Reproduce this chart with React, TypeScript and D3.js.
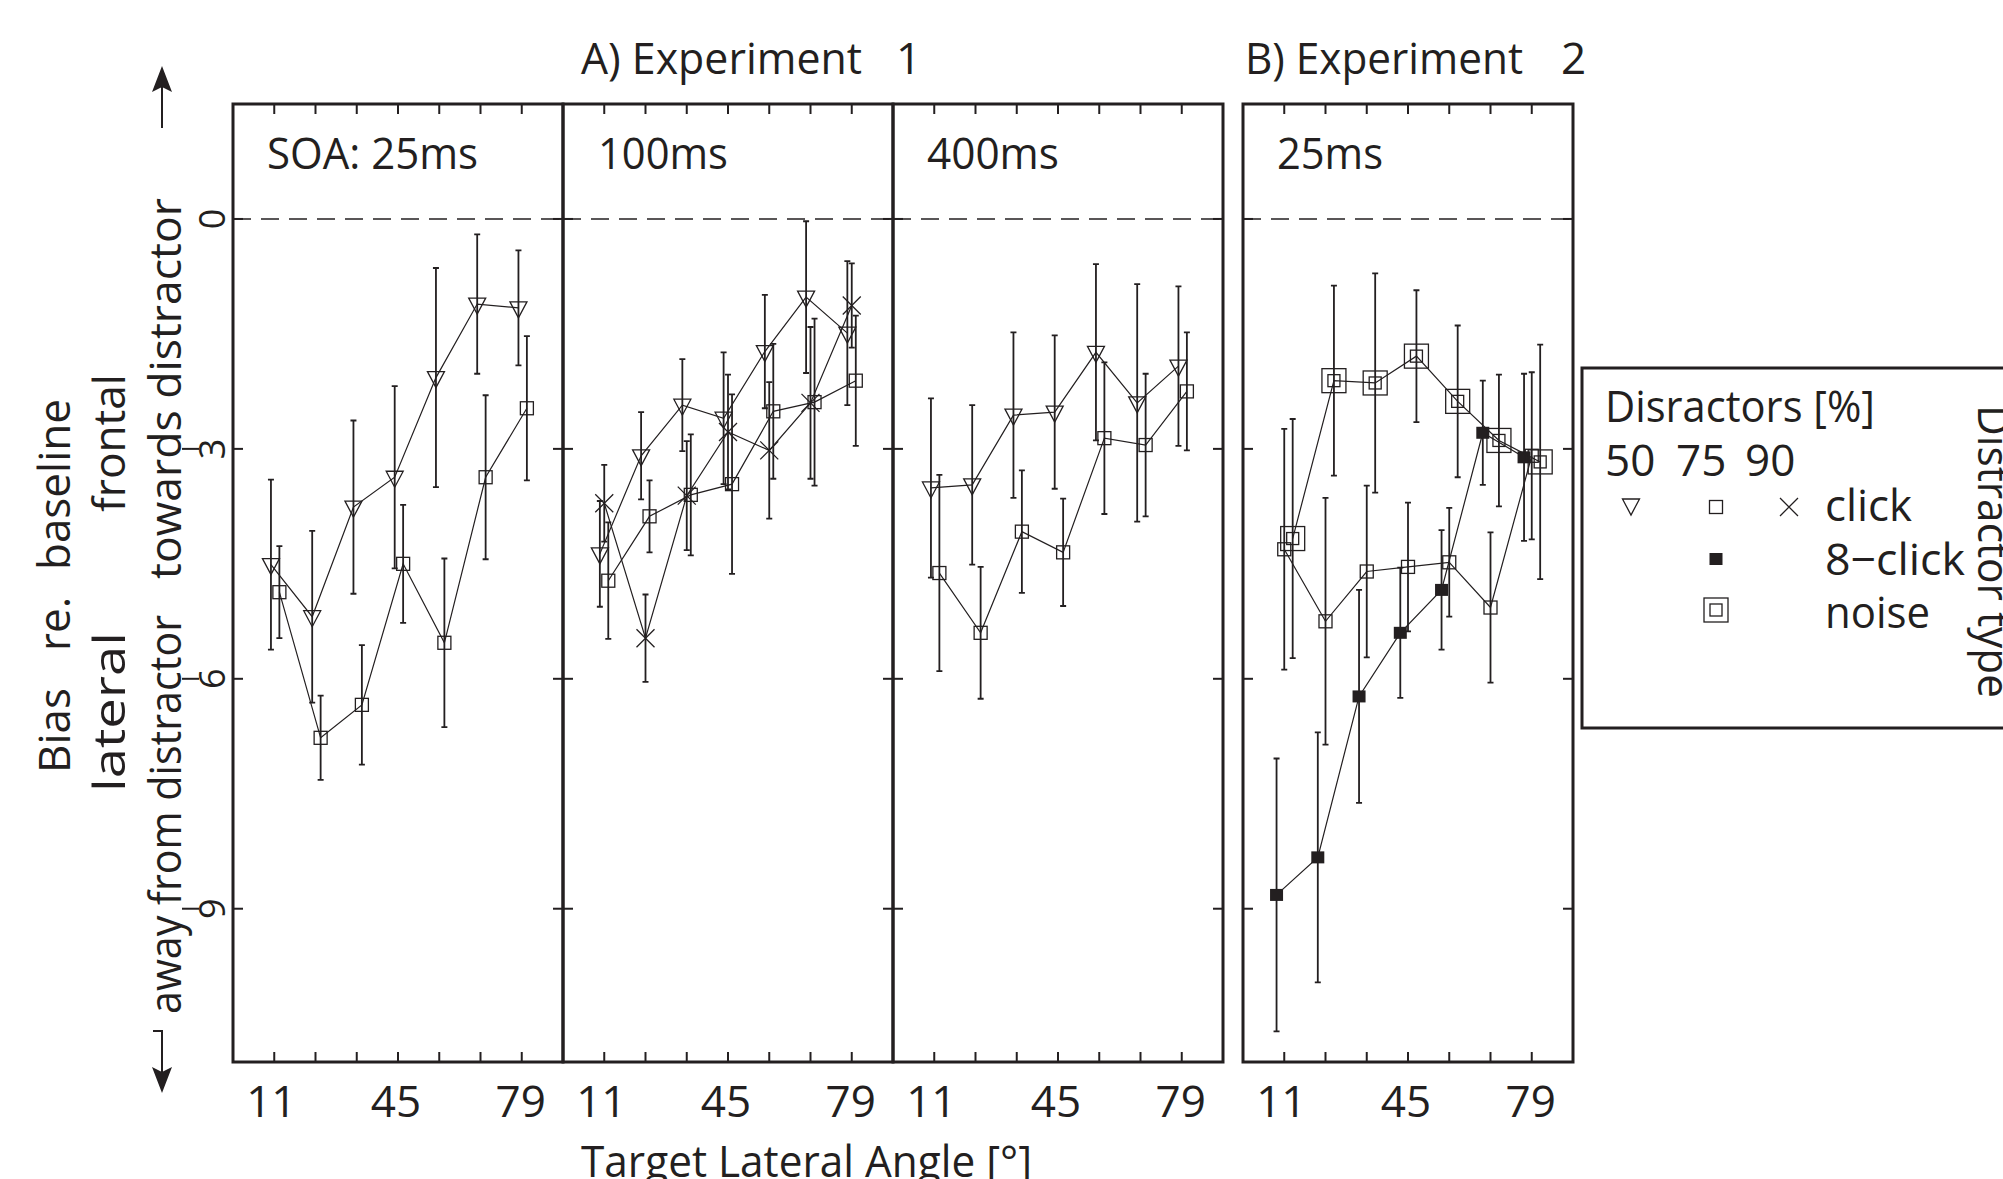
import React from 'react';
import * as d3 from 'd3';

// target lateral angles (deg) and axis labels
const angles = [11.25, 22.5, 33.75, 45, 56.25, 67.5, 78.75];
const xTickLabels = [11, 45, 79];
const yTickValues = [0, -3, -6, -9];

// Experiment 1, SOA 25 ms
const e1s25Pct50 = [-4.51, -5.19, -3.76, -3.37, -2.07, -1.11, -1.16];
const e1s25Pct50Err = [1.11, 1.12, 1.13, 1.19, 1.43, 0.91, 0.75];
const e1s25Pct75 = [-4.87, -6.77, -6.34, -4.5, -5.53, -3.37, -2.47];
const e1s25Pct75Err = [0.6, 0.55, 0.78, 0.77, 1.1, 1.07, 0.94];

// Experiment 1, SOA 100 ms
const e1s100Pct50 = [-4.37, -3.09, -2.43, -2.6, -1.73, -1.02, -1.49];
const e1s100Pct50Err = [0.69, 0.57, 0.6, 0.86, 0.74, 0.99, 0.94];
const e1s100Pct75 = [-4.72, -3.88, -3.6, -3.46, -2.51, -2.39, -2.11];
const e1s100Pct75Err = [0.76, 0.47, 0.79, 1.17, 0.88, 1.09, 0.85];
const e1s100Pct90 = [-3.71, -5.47, -3.61, -2.78, -3.02, -2.4, -1.13];
const e1s100Pct90Err = [0.5, 0.57, 0.71, 0.75, 0.89, 0.99, 0.55];

// Experiment 1, SOA 400 ms
const e1s400Pct50 = [-3.51, -3.47, -2.56, -2.52, -1.74, -2.4, -1.92];
const e1s400Pct50Err = [1.17, 1.04, 1.08, 1.0, 1.15, 1.55, 1.04];
const e1s400Pct75 = [-4.62, -5.4, -4.08, -4.35, -2.86, -2.95, -2.25];
const e1s400Pct75Err = [1.28, 0.86, 0.8, 0.7, 0.99, 0.93, 0.77];

// Experiment 2, SOA 25 ms, 75 % distractors
const e2Click = [-4.31, -5.25, -4.6, -4.54, -4.48, -5.07, -3.09];
const e2ClickErr = [1.57, 1.61, 1.12, 0.84, 0.71, 0.98, 1.09];
const e2EightClick = [-8.82, -8.33, -6.23, -5.4, -4.84, -2.79, -3.11];
const e2EightClickErr = [1.78, 1.63, 1.39, 0.85, 0.78, 0.68, 1.09];
const e2Noise = [-4.17, -2.11, -2.14, -1.79, -2.38, -2.89, -3.17];
const e2NoiseErr = [1.56, 1.24, 1.43, 0.86, 0.99, 0.86, 1.53];

const INK = '#231f20';
const FONT = "'Open Sans', 'Noto Sans', sans-serif";
const FS = 44;
const PANEL_W = 330;

type MarkerType = 'tri' | 'sq' | 'x' | 'fill' | 'noise';

const panels = [
  {
    left: 233, label: 'SOA: 25ms', labelX: 267, labelLen: 211,
    series: [
      { vals: e1s25Pct50, err: e1s25Pct50Err, marker: 'tri', dodge: -0.9 },
      { vals: e1s25Pct75, err: e1s25Pct75Err, marker: 'sq', dodge: 1.4 },
    ],
  },
  {
    left: 563, label: '100ms', labelX: 598, labelLen: 130,
    series: [
      { vals: e1s100Pct50, err: e1s100Pct50Err, marker: 'tri', dodge: -1.2 },
      { vals: e1s100Pct90, err: e1s100Pct90Err, marker: 'x', dodge: 0 },
      { vals: e1s100Pct75, err: e1s100Pct75Err, marker: 'sq', dodge: 1.1 },
    ],
  },
  {
    left: 893, label: '400ms', labelX: 927, labelLen: 132,
    series: [
      { vals: e1s400Pct50, err: e1s400Pct50Err, marker: 'tri', dodge: -0.9 },
      { vals: e1s400Pct75, err: e1s400Pct75Err, marker: 'sq', dodge: 1.4 },
    ],
  },
  {
    left: 1243, label: '25ms', labelX: 1277, labelLen: 106,
    series: [
      { vals: e2EightClick, err: e2EightClickErr, marker: 'fill', dodge: -2.1 },
      { vals: e2Click, err: e2ClickErr, marker: 'sq', dodge: 0 },
      { vals: e2Noise, err: e2NoiseErr, marker: 'noise', dodge: 2.3 },
    ],
  },
];

function Marker({ type, cx, cy }: { type: MarkerType; cx: number; cy: number }) {
  const s = { fill: 'none', stroke: INK, strokeWidth: 1.3 };
  if (type === 'tri')
    return <path d={`M${cx - 8.5},${cy - 6}L${cx + 8.5},${cy - 6}L${cx},${cy + 10}Z`} {...s} />;
  if (type === 'sq') return <rect x={cx - 6.5} y={cy - 6.5} width={13} height={13} {...s} />;
  if (type === 'x')
    return <path d={`M${cx - 9},${cy - 9}L${cx + 9},${cy + 9}M${cx - 9},${cy + 9}L${cx + 9},${cy - 9}`} {...s} />;
  if (type === 'fill') return <rect x={cx - 6.5} y={cy - 6} width={13} height={12} fill={INK} />;
  return (
    <g>
      <rect x={cx - 12} y={cy - 12} width={24} height={24} {...s} />
      <rect x={cx - 6} y={cy - 6} width={12} height={12} {...s} />
    </g>
  );
}

function Panel({ p, y }: { p: (typeof panels)[number]; y: d3.ScaleLinear<number, number> }) {
  const x = d3.scaleLinear().domain([0, 90]).range([p.left, p.left + PANEL_W]);
  const [y0, y1] = y.range();
  return (
    <g>
      <line x1={p.left} x2={p.left + PANEL_W} y1={y(0)} y2={y(0)} stroke={INK} strokeWidth={1.5} strokeDasharray="18 10" />
      {angles.map((a) => (
        <g key={a}>
          <line x1={x(a)} x2={x(a)} y1={y1} y2={y1 + 10} stroke={INK} strokeWidth={2} />
          <line x1={x(a)} x2={x(a)} y1={y0} y2={y0 - 10} stroke={INK} strokeWidth={2} />
        </g>
      ))}
      {yTickValues.map((v) => (
        <g key={v}>
          <line x1={p.left} x2={p.left + 10} y1={y(v)} y2={y(v)} stroke={INK} strokeWidth={2} />
          <line x1={p.left + PANEL_W} x2={p.left + PANEL_W - 10} y1={y(v)} y2={y(v)} stroke={INK} strokeWidth={2} />
        </g>
      ))}
      {xTickLabels.map((t) => (
        <text key={t} x={x(t) - 2} y={1117} fontFamily={FONT} fontSize={FS} textAnchor="middle" fill={INK}>
          {t}
        </text>
      ))}
      <text x={p.labelX} y={169} fontFamily={FONT} fontSize={FS} fill={INK} textLength={p.labelLen} lengthAdjust="spacingAndGlyphs">
        {p.label}
      </text>
      {p.series.map((s, si) => {
        const px = (i: number) => x(angles[i] + s.dodge);
        const line = d3.line<number>().x((_, i) => px(i)).y((v) => y(v));
        return (
          <g key={si}>
            {s.vals.map((v, i) => {
              const top = y(v + s.err[i]);
              const bot = y(v - s.err[i]);
              const cx = px(i);
              return (
                <path
                  key={i}
                  d={`M${cx},${top}V${bot}M${cx - 3},${top}H${cx + 3}M${cx - 3},${bot}H${cx + 3}`}
                  stroke={INK}
                  strokeWidth={1.8}
                  fill="none"
                />
              );
            })}
            <path d={line(s.vals) || ''} fill="none" stroke={INK} strokeWidth={1.2} />
            {s.vals.map((v, i) => (
              <Marker key={i} type={s.marker as MarkerType} cx={px(i)} cy={y(v)} />
            ))}
          </g>
        );
      })}
      <rect x={p.left} y={y1} width={PANEL_W} height={y0 - y1} fill="none" stroke={INK} strokeWidth={3} />
    </g>
  );
}

export default function App() {
  const W = 2003;
  const H = 1179;
  const y = d3.scaleLinear().domain([-11, 1.5]).range([1062, 104]);
  const txt = { fontFamily: FONT, fontSize: FS, fill: INK };
  const rotUp = (x: number, yy: number) => `translate(${x},${yy}) rotate(-90)`;

  return (
    <svg width={W} height={H} style={{ position: 'absolute', left: 0, top: 0, background: '#fff' }}>
      {/* experiment headers */}
      <text x={581} y={74} {...txt} textLength={281} lengthAdjust="spacingAndGlyphs">A) Experiment</text>
      <text x={896} y={74} {...txt}>1</text>
      <text x={1245} y={74} {...txt} textLength={278} lengthAdjust="spacingAndGlyphs">B) Experiment</text>
      <text x={1561} y={74} {...txt}>2</text>

      {panels.map((p, i) => (
        <Panel key={i} p={p} y={y} />
      ))}

      {/* y tick labels, rotated like the axis title */}
      {yTickValues.map((v) => (
        <g key={v}>
          <text
            transform={`translate(211,${y(v)}) rotate(-90)`}
            {...txt}
            fontSize={36}
            textAnchor="middle"
            dominantBaseline="central"
          >
            {Math.abs(v)}
          </text>
          {v !== 0 && <line x1={182} x2={199} y1={y(v)} y2={y(v)} stroke={INK} strokeWidth={2} />}
        </g>
      ))}

      {/* y axis title */}
      <text transform={rotUp(70, 773)} {...txt}>Bias</text>
      <text transform={rotUp(70, 651)} {...txt}>re.</text>
      <text transform={rotUp(70, 570)} {...txt}>baseline</text>
      <text transform={rotUp(125, 792)} {...txt} textLength={160} lengthAdjust="spacingAndGlyphs">lateral</text>
      <text transform={rotUp(125, 512)} {...txt} textLength={138} lengthAdjust="spacingAndGlyphs">frontal</text>
      <text transform={rotUp(181, 1014)} {...txt} textLength={399} lengthAdjust="spacingAndGlyphs">away from distractor</text>
      <text transform={rotUp(181, 579)} {...txt} textLength={381} lengthAdjust="spacingAndGlyphs">towards distractor</text>

      {/* direction arrows */}
      <line x1={162} x2={162} y1={128} y2={80} stroke={INK} strokeWidth={2} />
      <path d="M162,66L152,92L162,87L172,92Z" fill={INK} />
      <line x1={162} x2={162} y1={1031} y2={1072} stroke={INK} strokeWidth={2} />
      <line x1={153} x2={163} y1={1031} y2={1031} stroke={INK} strokeWidth={2} />
      <path d="M162,1093L152,1067L162,1072L172,1067Z" fill={INK} />

      {/* x axis title */}
      <text x={581} y={1177} {...txt} textLength={451} lengthAdjust="spacingAndGlyphs">Target Lateral Angle [°]</text>

      {/* legend */}
      <rect x={1582} y={368} width={460} height={360} fill="none" stroke={INK} strokeWidth={3} />
      <text x={1605} y={422} {...txt} textLength={270} lengthAdjust="spacingAndGlyphs">Disractors [%]</text>
      <text x={1605} y={476} {...txt}>50</text>
      <text x={1676} y={476} {...txt}>75</text>
      <text x={1745} y={476} {...txt}>90</text>
      <Marker type="tri" cx={1631} cy={505} />
      <Marker type="sq" cx={1716} cy={507} />
      <Marker type="x" cx={1789} cy={507} />
      <text x={1825} y={521} {...txt} textLength={87} lengthAdjust="spacingAndGlyphs">click</text>
      <Marker type="fill" cx={1716} cy={559} />
      <text x={1825} y={575} {...txt} textLength={140} lengthAdjust="spacingAndGlyphs">8−click</text>
      <Marker type="noise" cx={1716} cy={610} />
      <text x={1825} y={628} {...txt} textLength={105} lengthAdjust="spacingAndGlyphs">noise</text>
      <text transform={`translate(1978,405) rotate(90)`} {...txt} textLength={293} lengthAdjust="spacingAndGlyphs">
        Distractor type
      </text>
    </svg>
  );
}
